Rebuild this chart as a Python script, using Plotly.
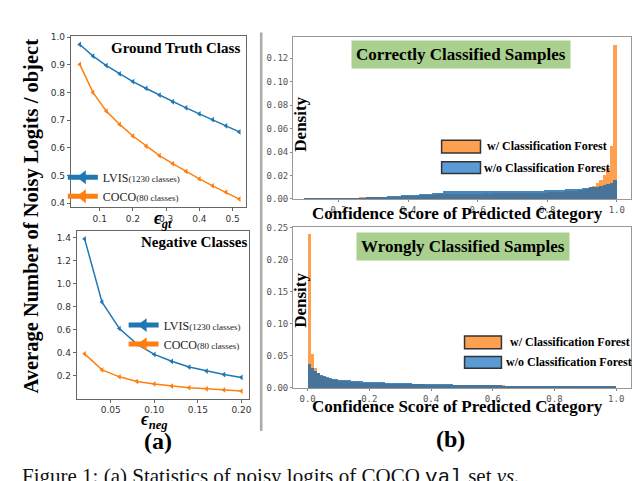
import numpy as np
import plotly.graph_objects as go

# the page body adds an 8px margin, so the figure is drawn 8px in from the corner
OFF = 8
W, H = 640 - OFF, 481 - OFF

# (a) noisy logits per object
gt_eps = [0.04, 0.08, 0.12, 0.16, 0.20, 0.24, 0.28, 0.32, 0.36, 0.40, 0.44, 0.48, 0.52]
gt_lvis = [0.974, 0.932, 0.898, 0.868, 0.840, 0.815, 0.791, 0.767, 0.745, 0.723, 0.702, 0.680, 0.658]
gt_coco = [0.902, 0.800, 0.733, 0.685, 0.643, 0.606, 0.572, 0.543, 0.515, 0.488, 0.463, 0.440, 0.415]

neg_eps = [0.02, 0.04, 0.06, 0.08, 0.10, 0.12, 0.14, 0.16, 0.18, 0.20]
neg_lvis = [1.39, 0.84, 0.61, 0.475, 0.385, 0.325, 0.275, 0.240, 0.210, 0.185]
neg_coco = [0.39, 0.25, 0.19, 0.150, 0.128, 0.110, 0.096, 0.086, 0.076, 0.066]

# (b) confidence histograms, bin width 0.01
bin_w = 0.01
correct_start = 0.10
correct_with = [
    0.0001, 0.0001, 0.0001, 0.0001, 0.0001, 0.0001, 0.0002, 0.0002, 0.0002, 0.0002,
    0.0002, 0.0003, 0.0003, 0.0003, 0.0004, 0.0004, 0.0005, 0.0006, 0.0007, 0.0008,
    0.0009, 0.0010, 0.0011, 0.0012, 0.0013, 0.0014, 0.0016, 0.0017, 0.0019, 0.0020,
    0.0022, 0.0023, 0.0025, 0.0026, 0.0028, 0.0030, 0.0031, 0.0033, 0.0035, 0.0036,
    0.0040, 0.0041, 0.0040, 0.0041, 0.0040, 0.0041, 0.0042, 0.0041, 0.0042, 0.0041,
    0.0042, 0.0042, 0.0043, 0.0042, 0.0043, 0.0043, 0.0044, 0.0043, 0.0044, 0.0045,
    0.0045, 0.0046, 0.0046, 0.0047, 0.0047, 0.0048, 0.0049, 0.0049, 0.0050, 0.0051,
    0.0052, 0.0053, 0.0055, 0.0056, 0.0058, 0.0060, 0.0062, 0.0065, 0.0068, 0.0071,
    0.0076, 0.0083, 0.0095, 0.0110, 0.0130, 0.0160, 0.0200, 0.0260, 0.0450, 0.1310,
]
correct_without = [
    0.0001, 0.0001, 0.0001, 0.0001, 0.0002, 0.0002, 0.0002, 0.0002, 0.0003, 0.0003,
    0.0003, 0.0004, 0.0004, 0.0005, 0.0005, 0.0006, 0.0007, 0.0008, 0.0009, 0.0010,
    0.0012, 0.0013, 0.0015, 0.0016, 0.0018, 0.0020, 0.0022, 0.0024, 0.0026, 0.0028,
    0.0030, 0.0032, 0.0034, 0.0036, 0.0038, 0.0040, 0.0042, 0.0045, 0.0048, 0.0050,
    0.0062, 0.0064, 0.0063, 0.0062, 0.0064, 0.0063, 0.0062, 0.0063, 0.0064, 0.0063,
    0.0064, 0.0063, 0.0064, 0.0065, 0.0064, 0.0065, 0.0064, 0.0065, 0.0066, 0.0065,
    0.0066, 0.0065, 0.0066, 0.0067, 0.0066, 0.0067, 0.0068, 0.0067, 0.0068, 0.0069,
    0.0070, 0.0071, 0.0072, 0.0074, 0.0075, 0.0077, 0.0079, 0.0081, 0.0083, 0.0085,
    0.0088, 0.0091, 0.0094, 0.0098, 0.0102, 0.0107, 0.0113, 0.0120, 0.0130, 0.0155,
]
wrong_start = 0.00
wrong_with = [
    0.2390, 0.0520, 0.0300, 0.0220, 0.0180, 0.0160, 0.0145, 0.0133, 0.0122, 0.0113,
    0.0106, 0.0100, 0.0095, 0.0091, 0.0087, 0.0084, 0.0081, 0.0078, 0.0076, 0.0073,
    0.0071, 0.0069, 0.0067, 0.0065, 0.0064, 0.0062, 0.0060, 0.0059, 0.0058, 0.0056,
    0.0055, 0.0054, 0.0053, 0.0052, 0.0051, 0.0050, 0.0049, 0.0048, 0.0047, 0.0046,
    0.0045, 0.0044, 0.0044, 0.0043, 0.0042, 0.0042, 0.0041, 0.0040, 0.0040, 0.0039,
    0.0038, 0.0038, 0.0037, 0.0037, 0.0036, 0.0036, 0.0035, 0.0035, 0.0034, 0.0034,
    0.0033, 0.0033, 0.0032, 0.0032, 0.0031, 0.0031, 0.0031, 0.0030, 0.0030, 0.0029,
    0.0029, 0.0029, 0.0028, 0.0028, 0.0028, 0.0027, 0.0027, 0.0027, 0.0026, 0.0026,
    0.0026, 0.0026, 0.0025, 0.0025, 0.0025, 0.0025, 0.0024, 0.0024, 0.0024, 0.0024,
    0.0024, 0.0024, 0.0024, 0.0025, 0.0025, 0.0025, 0.0026, 0.0026, 0.0027, 0.0028,
]
wrong_without = [
    0.0360, 0.0300, 0.0260, 0.0230, 0.0200, 0.0180, 0.0165, 0.0152, 0.0140, 0.0132,
    0.0125, 0.0119, 0.0114, 0.0110, 0.0106, 0.0102, 0.0099, 0.0096, 0.0093, 0.0090,
    0.0088, 0.0085, 0.0083, 0.0081, 0.0079, 0.0077, 0.0075, 0.0073, 0.0072, 0.0070,
    0.0068, 0.0067, 0.0065, 0.0064, 0.0062, 0.0061, 0.0059, 0.0058, 0.0057, 0.0056,
    0.0054, 0.0053, 0.0052, 0.0051, 0.0050, 0.0049, 0.0048, 0.0047, 0.0046, 0.0045,
    0.0040, 0.0039, 0.0038, 0.0038, 0.0037, 0.0036, 0.0035, 0.0035, 0.0034, 0.0033,
    0.0033, 0.0032, 0.0032, 0.0031, 0.0031, 0.0030, 0.0030, 0.0029, 0.0029, 0.0028,
    0.0028, 0.0027, 0.0027, 0.0027, 0.0026, 0.0026, 0.0026, 0.0025, 0.0025, 0.0025,
    0.0024, 0.0024, 0.0024, 0.0023, 0.0023, 0.0023, 0.0023, 0.0022, 0.0022, 0.0022,
    0.0022, 0.0021, 0.0021, 0.0021, 0.0021, 0.0020, 0.0020, 0.0020, 0.0020, 0.0021,
]

correct_x = correct_start + bin_w * (np.arange(len(correct_with)) + 0.5)
wrong_x = wrong_start + bin_w * (np.arange(len(wrong_with)) + 0.5)

BLUE = "#1f77b4"
ORANGE = "#ff7f0e"
HIST_OR = "#ffa050"
HIST_BL = "rgba(25,105,170,0.8)"
SERIF = "Liberation Serif"
MONO = "DejaVu Sans Mono"


# positions below are in screenshot pixels
def px(x):
    return (x - OFF) / W


def py(y):
    return 1 - (y - OFF) / H


fig = go.Figure()

small = "<span style='font-size:9px'>"
fig.add_trace(go.Scatter(x=gt_eps, y=gt_lvis, mode="lines+markers", name="LVIS" + small + "(1230 classes)</span>",
                         line=dict(color=BLUE, width=1.5), marker=dict(symbol="triangle-left", size=5),
                         xaxis="x", yaxis="y", legend="legend"))
fig.add_trace(go.Scatter(x=gt_eps, y=gt_coco, mode="lines+markers", name="COCO" + small + "(80 classes)</span>",
                         line=dict(color=ORANGE, width=1.5), marker=dict(symbol="triangle-left", size=5),
                         xaxis="x", yaxis="y", legend="legend"))
fig.add_trace(go.Scatter(x=neg_eps, y=neg_lvis, mode="lines+markers", name="LVIS" + small + "(1230 classes)</span>",
                         line=dict(color=BLUE, width=1.5), marker=dict(symbol="triangle-left", size=5),
                         xaxis="x2", yaxis="y2", legend="legend2"))
fig.add_trace(go.Scatter(x=neg_eps, y=neg_coco, mode="lines+markers", name="COCO" + small + "(80 classes)</span>",
                         line=dict(color=ORANGE, width=1.5), marker=dict(symbol="triangle-left", size=5),
                         xaxis="x2", yaxis="y2", legend="legend2"))

for xs, ys, ax, ay in [(correct_x, correct_with, "x3", "y3"), (wrong_x, wrong_with, "x4", "y4")]:
    fig.add_trace(go.Bar(x=xs, y=ys, width=bin_w, marker=dict(color=HIST_OR, line=dict(width=0)),
                         xaxis=ax, yaxis=ay, showlegend=False))
for xs, ys, ax, ay in [(correct_x, correct_without, "x3", "y3"), (wrong_x, wrong_without, "x4", "y4")]:
    fig.add_trace(go.Bar(x=xs, y=ys, width=bin_w, marker=dict(color=HIST_BL, line=dict(width=0)),
                         xaxis=ax, yaxis=ay, showlegend=False))

left_ax = dict(showline=True, linecolor="#666", linewidth=1, mirror=True, ticks="outside", ticklen=3,
               tickcolor="#666", tickfont=dict(family="DejaVu Sans", size=9, color="#333"),
               showgrid=False, zeroline=False)
right_ax = dict(showline=True, linecolor="#999", linewidth=1, mirror=True, ticks="outside", ticklen=2,
                tickcolor="#888", tickfont=dict(family=MONO, size=9, color="#555"),
                showgrid=False, zeroline=False)

fig.update_layout(
    width=W, height=H, margin=dict(l=0, r=0, t=0, b=0),
    paper_bgcolor="white", plot_bgcolor="white",
    barmode="overlay", bargap=0,
    xaxis=dict(left_ax, domain=[px(71), px(247)], range=[0.013, 0.541], anchor="y",
               tickvals=[0.1, 0.2, 0.3, 0.4, 0.5], tickformat=".1f"),
    yaxis=dict(left_ax, domain=[py(206), py(32)], range=[0.387, 1.003], anchor="x",
               tickvals=[0.4, 0.5, 0.6, 0.7, 0.8, 0.9, 1.0], tickformat=".1f"),
    xaxis2=dict(left_ax, domain=[px(77), px(250)], range=[0.011, 0.209], anchor="y2",
                tickvals=[0.05, 0.10, 0.15, 0.20], tickformat=".2f"),
    yaxis2=dict(left_ax, domain=[py(402), py(231)], range=[0, 1.456], anchor="x2",
                tickvals=[0.2, 0.4, 0.6, 0.8, 1.0, 1.2, 1.4], tickformat=".1f"),
    xaxis3=dict(right_ax, domain=[px(294), px(633)], range=[0.069, 1.041], anchor="y3",
                tickvals=[0.2, 0.4, 0.6, 0.8, 1.0], tickformat=".1f"),
    yaxis3=dict(right_ax, domain=[py(198), py(33)], range=[0, 0.1376], anchor="x3",
                tickvals=[0, 0.02, 0.04, 0.06, 0.08, 0.10, 0.12], tickformat=".2f"),
    xaxis4=dict(right_ax, domain=[px(294), px(633)], range=[-0.047, 1.048], anchor="y4",
                tickvals=[0, 0.2, 0.4, 0.6, 0.8, 1.0], tickformat=".1f"),
    yaxis4=dict(right_ax, domain=[py(391), py(227)], range=[0, 0.2505], anchor="x4",
                tickvals=[0, 0.05, 0.10, 0.15, 0.20, 0.25], tickformat=".2f"),
    legend=dict(x=px(63), y=py(161), xanchor="left", yanchor="top", bgcolor="rgba(0,0,0,0)",
                font=dict(family=SERIF, size=12, color="#222"), itemsizing="constant", tracegroupgap=0),
    legend2=dict(x=px(124), y=py(312), xanchor="left", yanchor="top", bgcolor="rgba(0,0,0,0)",
                 font=dict(family=SERIF, size=12, color="#222"), itemsizing="constant", tracegroupgap=0),
)

ann = []


def text(x, y, s, size, **kw):
    d = dict(x=px(x), y=py(y), xref="paper", yref="paper", text=s, showarrow=False,
             xanchor="center", yanchor="middle",
             font=dict(family=SERIF, size=size, color=kw.pop("color", "black")))
    d.update(kw)
    ann.append(d)


text(32, 215, "<b>Average Number of Noisy Logits / object</b>", 20.5, textangle=-90)
text(176, 44, "<b>Ground Truth Class</b>", 15)
text(195, 242, "<b>Negative Classes</b>", 15)
text(163, 219, "<b><i>ϵ<sub>gt</sub></i></b>", 18)
text(155, 424, "<b><i>ϵ<sub>neg</sub></i></b>", 18)
text(158, 445, "<b>(a)</b>", 24)
text(452, 443, "<b>(b)</b>", 24)

text(302, 122, "<b>Density</b>", 17, textangle=-90)
text(302, 302, "<b>Density</b>", 17, textangle=-90)
text(459, 213, "<b>Confidence Score of Predicted Category</b>", 17)
text(459, 410, "<b>Confidence Score of Predicted Category</b>", 17)
text(462, 50, "<b>Correctly Classified Samples</b>", 17, bgcolor="#a9d08e", borderpad=4)
text(464.5, 246.5, "<b>Wrongly Classified Samples</b>", 17, bgcolor="#a9d08e", borderpad=4)

text(487, 144, "<b>w/ Classification Forest</b>", 12, xanchor="left")
text(484, 166, "<b>w/o Classification Forest</b>", 12, xanchor="left")
text(510, 344, "<b>w/ Classification Forest</b>", 12, xanchor="left")
text(506, 365, "<b>w/o Classification Forest</b>", 12, xanchor="left")

text(20, 467, "Figure 1: (a) Statistics of noisy logits of COCO <span style='font-family:Liberation Mono'>val</span> set <i>vs.</i>",
     21, xanchor="left", yanchor="top", color="#111")

shapes = [
    dict(type="line", xref="paper", yref="paper", x0=px(262), x1=px(262), y0=py(28), y1=py(435),
         line=dict(color="#aaa", width=2.5)),
]
for (x0, y0, x1, y1, c) in [(443, 138, 482, 151, HIST_OR), (443, 160, 482, 172, "#5b9bd5"),
                            (466, 338, 503, 351, HIST_OR), (466, 359, 503, 371, "#5b9bd5")]:
    shapes.append(dict(type="rect", xref="paper", yref="paper", x0=px(x0), x1=px(x1), y0=py(y0), y1=py(y1),
                       fillcolor=c, line=dict(color="#333", width=1.5)))

fig.update_layout(annotations=ann, shapes=shapes)

fig.write_html("out.html")
